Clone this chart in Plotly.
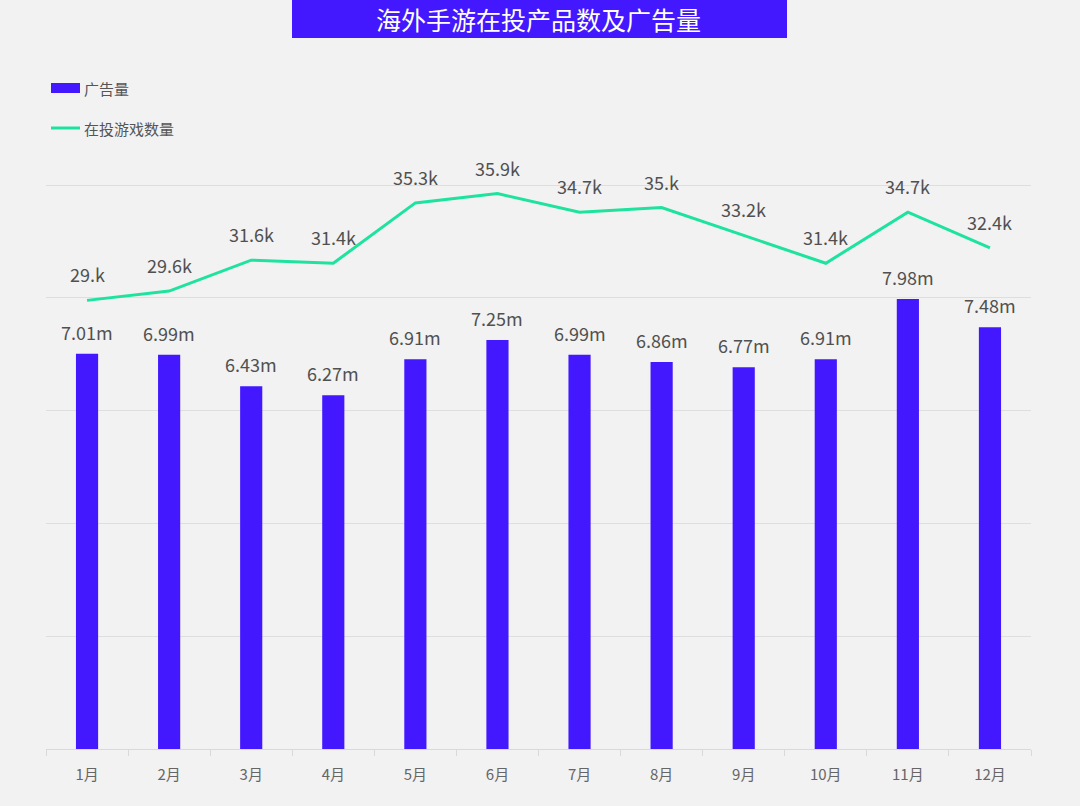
import plotly.graph_objects as go

months = ["1月", "2月", "3月", "4月", "5月", "6月", "7月", "8月", "9月", "10月", "11月", "12月"]
ad_volume_m = [7.01, 6.99, 6.43, 6.27, 6.91, 7.25, 6.99, 6.86, 6.77, 6.91, 7.98, 7.48]
ad_labels = ["7.01m", "6.99m", "6.43m", "6.27m", "6.91m", "7.25m", "6.99m", "6.86m", "6.77m", "6.91m", "7.98m", "7.48m"]
games_k = [29.0, 29.6, 31.6, 31.4, 35.3, 35.9, 34.7, 35.0, 33.2, 31.4, 34.7, 32.4]
games_labels = ["29.k", "29.6k", "31.6k", "31.4k", "35.3k", "35.9k", "34.7k", "35.k", "33.2k", "31.4k", "34.7k", "32.4k"]

BAR_COLOR = "#4318ff"
LINE_COLOR = "#1de39e"
BG = "#f2f2f2"
FONT = "Noto Sans CJK SC"

W, H = 1080, 806
ML, MR, MT, MB = 46, 49, 100, 57
PW, PH = W - ML - MR, H - MT - MB


def px_x(px):
    return (px - ML) / PW


def px_y(py):
    return (H - MB - py) / PH


fig = go.Figure()
fig.add_trace(go.Bar(x=months, y=ad_volume_m, name="广告量", marker=dict(color=BAR_COLOR, line=dict(width=0)),
                     showlegend=False, hoverinfo="skip"))
fig.add_trace(go.Scatter(x=months, y=games_k, name="在投游戏数量", mode="lines", yaxis="y2",
                         line=dict(color=LINE_COLOR, width=3), showlegend=False, hoverinfo="skip",
                         cliponaxis=False))

annotations = []
for m, v, t in zip(months, ad_volume_m, ad_labels):
    annotations.append(dict(x=m, y=v, xref="x", yref="y", text=t, showarrow=False, yshift=22,
                            font=dict(family=FONT, size=18, color="#505050")))
for m, v, t in zip(months, games_k, games_labels):
    annotations.append(dict(x=m, y=v, xref="x", yref="y2", text=t, showarrow=False, yshift=26,
                            font=dict(family=FONT, size=18, color="#505050")))

# title
annotations.append(dict(x=0.5, y=px_y(19), xref="paper", yref="paper", text="海外手游在投产品数及广告量",
                        showarrow=False, xanchor="center", yanchor="middle",
                        font=dict(family=FONT, size=25, color="white")))

# legend
annotations.append(dict(x=px_x(82), y=px_y(88), xref="paper", yref="paper", text="广告量", showarrow=False,
                        xanchor="left", yanchor="middle", font=dict(family=FONT, size=15, color="#555555")))
annotations.append(dict(x=px_x(82), y=px_y(128), xref="paper", yref="paper", text="在投游戏数量", showarrow=False,
                        xanchor="left", yanchor="middle", font=dict(family=FONT, size=15, color="#555555")))

shapes = [
    dict(type="rect", xref="paper", yref="paper", x0=px_x(292), x1=px_x(787), y0=px_y(38), y1=px_y(0),
         fillcolor=BAR_COLOR, line=dict(width=0), layer="above"),
    dict(type="rect", xref="paper", yref="paper", x0=px_x(51), x1=px_x(80), y0=px_y(93), y1=px_y(83),
         fillcolor=BAR_COLOR, line=dict(width=0)),
    dict(type="line", xref="paper", yref="paper", x0=px_x(51), x1=px_x(80), y0=px_y(128), y1=px_y(128),
         line=dict(color=LINE_COLOR, width=3)),
]

fig.update_layout(
    width=W, height=H,
    margin=dict(l=ML, r=MR, t=MT, b=MB, pad=0),
    paper_bgcolor=BG, plot_bgcolor=BG,
    bargap=0.73,
    font=dict(family=FONT, color="#555555"),
    xaxis=dict(showline=True, linecolor="#d9d9d9", linewidth=1, ticks="outside", ticklen=6, tickcolor="#d9d9d9",
               tickson="boundaries", tickfont=dict(family=FONT, size=15, color="#666666"), showgrid=False,
               ticklabelstandoff=12, fixedrange=True),
    yaxis=dict(range=[0, PH / 56.4], dtick=2, tick0=0, showgrid=True, gridcolor="#dedede", gridwidth=1,
               showticklabels=False, zeroline=False, showline=False),
    yaxis2=dict(range=[0, PH / 15.47], overlaying="y", side="right", showgrid=False, showticklabels=False,
                zeroline=False, showline=False),
    annotations=annotations,
    shapes=shapes,
)

fig.write_html("out.html")
